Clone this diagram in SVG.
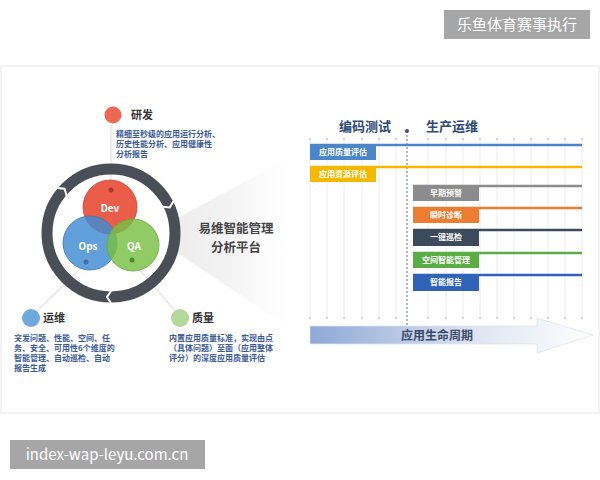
<svg xmlns="http://www.w3.org/2000/svg" width="600" height="480" viewBox="0 0 600 480">
<defs>
<style>
text{font-family:"Noto Sans CJK SC","Noto Sans",sans-serif;}
.h{font-size:11px;font-weight:bold;fill:#333;}
.d{font-size:8px;font-weight:bold;fill:#3b5a9a;}
.c{font-size:10px;font-weight:bold;fill:#fff;text-anchor:middle;}
.bt{font-size:8px;font-weight:bold;fill:#fff;text-anchor:middle;}
.g{stroke:#ececec;stroke-width:1;}
.wm{font-size:15px;fill:#fff;}
.p{font-size:12.5px;font-weight:bold;fill:#444;text-anchor:middle;}
</style>
<linearGradient id="wedge" x1="0" y1="0" x2="1" y2="0">
<stop offset="0" stop-color="#ececec"/>
<stop offset="0.5" stop-color="#f4f4f4"/>
<stop offset="1" stop-color="#ffffff" stop-opacity="0"/>
</linearGradient>
<linearGradient id="arr" x1="0" y1="0" x2="1" y2="0">
<stop offset="0" stop-color="#8ea8d6"/>
<stop offset="0.6" stop-color="#dfe6f2"/>
<stop offset="1" stop-color="#ffffff"/>
</linearGradient>
</defs>
<rect width="600" height="480" fill="#fff"/>
<rect x="1" y="66" width="598" height="347" fill="none" stroke="#efefef" stroke-width="1.5"/>

<!-- wedge -->
<polygon points="170,222 300,152 300,335 170,248" fill="url(#wedge)"/>

<g id="connectors" stroke="#e3e3e3" stroke-width="1.2" fill="none">
<line x1="111" y1="125" x2="111" y2="190"/>
<line x1="86" y1="263" x2="36" y2="312"/>
<line x1="132" y1="261" x2="176" y2="312"/>
</g>

<!-- ring -->
<g id="ring">
<circle cx="111" cy="233" r="64" fill="none" stroke="#4a4f57" stroke-width="11"/>
<polyline points="66.6,195.7 64.6,188.7 57.4,188" fill="none" stroke="#fff" stroke-width="2"/>
<polyline points="162.7,206.7 169.8,207.5 173.4,201.2" fill="none" stroke="#fff" stroke-width="2"/>
<polyline points="111,291 107,297 111,303" fill="none" stroke="#fff" stroke-width="2"/>
</g>

<g id="dev">
<circle cx="110" cy="207" r="27" fill="#e8503a" fill-opacity="0.92" stroke="#c94432" stroke-width="0.8"/>
<circle cx="111" cy="190" r="2.5" fill="#b03a2a"/>
<text class="c" x="110" y="212">Dev</text>
</g>
<g id="ops">
<circle cx="90" cy="243" r="27" fill="#3f8bd3" fill-opacity="0.82" stroke="#3676b8" stroke-width="0.8"/>
<circle cx="86" cy="262" r="2.5" fill="#3a6fa8"/>
<text class="c" x="88" y="250">Ops</text>
</g>
<g id="qa">
<circle cx="133" cy="245" r="26" fill="#78c043" fill-opacity="0.82" stroke="#64a838" stroke-width="0.8"/>
<circle cx="132" cy="260" r="2.5" fill="#4e8a2c"/>
<text class="c" x="134" y="250">QA</text>
</g>

<g id="yanfa">
<circle cx="113" cy="115" r="8.5" fill="#ec6a55"/>
<text class="h" x="131" y="119">研发</text>
<text class="d" x="116" y="137">精细至秒级的应用运行分析、</text>
<text class="d" x="116" y="147">历史性能分析、应用健康性</text>
<text class="d" x="116" y="157">分析报告</text>
</g>

<g id="yunwei">
<circle cx="31" cy="318" r="9" fill="#6fa8dc"/>
<text class="h" x="43" y="322">运维</text>
<text class="d" x="14" y="341">突发问题、性能、空间、任</text>
<text class="d" x="14" y="351">务、安全、可用性6个维度的</text>
<text class="d" x="14" y="361">智能管理、自动巡检、自动</text>
<text class="d" x="14" y="371">报告生成</text>
</g>

<g id="zhiliang">
<circle cx="180" cy="318" r="9" fill="#b3d89a"/>
<text class="h" x="192" y="322">质量</text>
<text class="d" x="169" y="341">内置应用质量标准，实现由点</text>
<text class="d" x="169" y="351">（具体问题）至面（应用整体</text>
<text class="d" x="169" y="361">评分）的深度应用质量评估</text>
</g>

<g id="platform">
<text class="p" x="236" y="233">易维智能管理</text>
<text class="p" x="236" y="252">分析平台</text>
</g>

<!-- chart grid -->
<g id="grid" class="g">
<line x1="310" y1="139" x2="310" y2="318"/><line x1="327" y1="139" x2="327" y2="318"/>
<line x1="344" y1="139" x2="344" y2="318"/><line x1="362" y1="139" x2="362" y2="318"/>
<line x1="379" y1="139" x2="379" y2="318"/><line x1="396" y1="139" x2="396" y2="318"/>
<line x1="428" y1="139" x2="428" y2="318"/><line x1="446" y1="139" x2="446" y2="318"/>
<line x1="463" y1="139" x2="463" y2="318"/><line x1="480" y1="139" x2="480" y2="318"/>
<line x1="497" y1="139" x2="497" y2="318"/><line x1="514" y1="139" x2="514" y2="318"/>
<line x1="531" y1="139" x2="531" y2="318"/><line x1="548" y1="139" x2="548" y2="318"/>
<line x1="565" y1="139" x2="565" y2="318"/><line x1="582" y1="139" x2="582" y2="318"/>
</g>
<g id="gridDots" fill="#d6d6d6">
<circle cx="310" cy="139" r="1.2"/><circle cx="327" cy="139" r="1.2"/><circle cx="344" cy="139" r="1.2"/><circle cx="362" cy="139" r="1.2"/><circle cx="379" cy="139" r="1.2"/><circle cx="396" cy="139" r="1.2"/><circle cx="428" cy="139" r="1.2"/><circle cx="446" cy="139" r="1.2"/><circle cx="463" cy="139" r="1.2"/><circle cx="480" cy="139" r="1.2"/><circle cx="497" cy="139" r="1.2"/><circle cx="514" cy="139" r="1.2"/><circle cx="531" cy="139" r="1.2"/><circle cx="548" cy="139" r="1.2"/><circle cx="565" cy="139" r="1.2"/><circle cx="582" cy="139" r="1.2"/>
<circle cx="310" cy="318" r="1.2"/><circle cx="327" cy="318" r="1.2"/><circle cx="344" cy="318" r="1.2"/><circle cx="362" cy="318" r="1.2"/><circle cx="379" cy="318" r="1.2"/><circle cx="396" cy="318" r="1.2"/><circle cx="428" cy="318" r="1.2"/><circle cx="446" cy="318" r="1.2"/><circle cx="463" cy="318" r="1.2"/><circle cx="480" cy="318" r="1.2"/><circle cx="497" cy="318" r="1.2"/><circle cx="514" cy="318" r="1.2"/><circle cx="531" cy="318" r="1.2"/><circle cx="548" cy="318" r="1.2"/><circle cx="565" cy="318" r="1.2"/><circle cx="582" cy="318" r="1.2"/>
</g>
<g id="divider">
<line x1="407" y1="131" x2="407" y2="340" stroke="#5a6e96" stroke-width="1" stroke-dasharray="2,2"/>
<circle cx="407" cy="131" r="2" fill="#3b4f7a"/>
</g>
<g id="headers">
<text x="365" y="131" font-size="13" font-weight="bold" fill="#2f4a78" text-anchor="middle">编码测试</text>
<text x="452" y="131" font-size="13" font-weight="bold" fill="#2f4a78" text-anchor="middle">生产运维</text>
</g>

<g id="bar1">
<line x1="310" y1="145" x2="582" y2="145" stroke="#4a86c8" stroke-width="2.5"/>
<rect x="310" y="144" width="66" height="16" fill="#4a86c8"/>
<text class="bt" x="343" y="155">应用质量评估</text>
</g>
<g id="bar2">
<line x1="310" y1="167" x2="582" y2="167" stroke="#f5b800" stroke-width="2.5"/>
<rect x="310" y="166" width="66" height="16" fill="#f5b800"/>
<text class="bt" x="343" y="177">应用资源评估</text>
</g>
<g id="bar3">
<line x1="413" y1="186" x2="582" y2="186" stroke="#8c8c8c" stroke-width="2.5"/>
<rect x="413" y="185" width="66" height="16" fill="#8c8c8c"/>
<text class="bt" x="446" y="196">早期预警</text>
</g>
<g id="bar4">
<line x1="413" y1="208" x2="582" y2="208" stroke="#ed7d31" stroke-width="2.5"/>
<rect x="413" y="207" width="66" height="16" fill="#ed7d31"/>
<text class="bt" x="446" y="218">瞬时诊断</text>
</g>
<g id="bar5">
<line x1="413" y1="230" x2="582" y2="230" stroke="#3d4a5c" stroke-width="2.5"/>
<rect x="413" y="229" width="66" height="17" fill="#3d4a5c"/>
<text class="bt" x="446" y="240">一键巡检</text>
</g>
<g id="bar6">
<line x1="413" y1="253" x2="582" y2="253" stroke="#5aac44" stroke-width="2.5"/>
<rect x="413" y="252" width="66" height="16" fill="#5aac44"/>
<text class="bt" x="446" y="263">空间智能管理</text>
</g>
<g id="bar7">
<line x1="413" y1="275" x2="582" y2="275" stroke="#2e63b8" stroke-width="2.5"/>
<rect x="413" y="274" width="66" height="17" fill="#2e63b8"/>
<text class="bt" x="446" y="285">智能报告</text>
</g>

<g id="lifecycle">
<polygon points="310,326 537,326 537,318 593,335 537,353 537,344 310,344" fill="url(#arr)" stroke="#dde3ee" stroke-width="0.8"/>
<text x="437" y="340" font-size="12" font-weight="bold" fill="#3a4a6a" text-anchor="middle">应用生命周期</text>
</g>

<g id="watermark1">
<rect x="444" y="10" width="146" height="29" fill="#a6a6a6"/>
<text class="wm" x="517" y="30" text-anchor="middle">乐鱼体育赛事执行</text>
</g>
<g id="watermark2">
<rect x="10" y="440" width="195" height="29" fill="#a6a6a6"/>
<text x="107" y="460" font-size="15" fill="#fff" text-anchor="middle" font-family="Roboto,'Liberation Sans',sans-serif">index-wap-leyu.com.cn</text>
</g>
</svg>
